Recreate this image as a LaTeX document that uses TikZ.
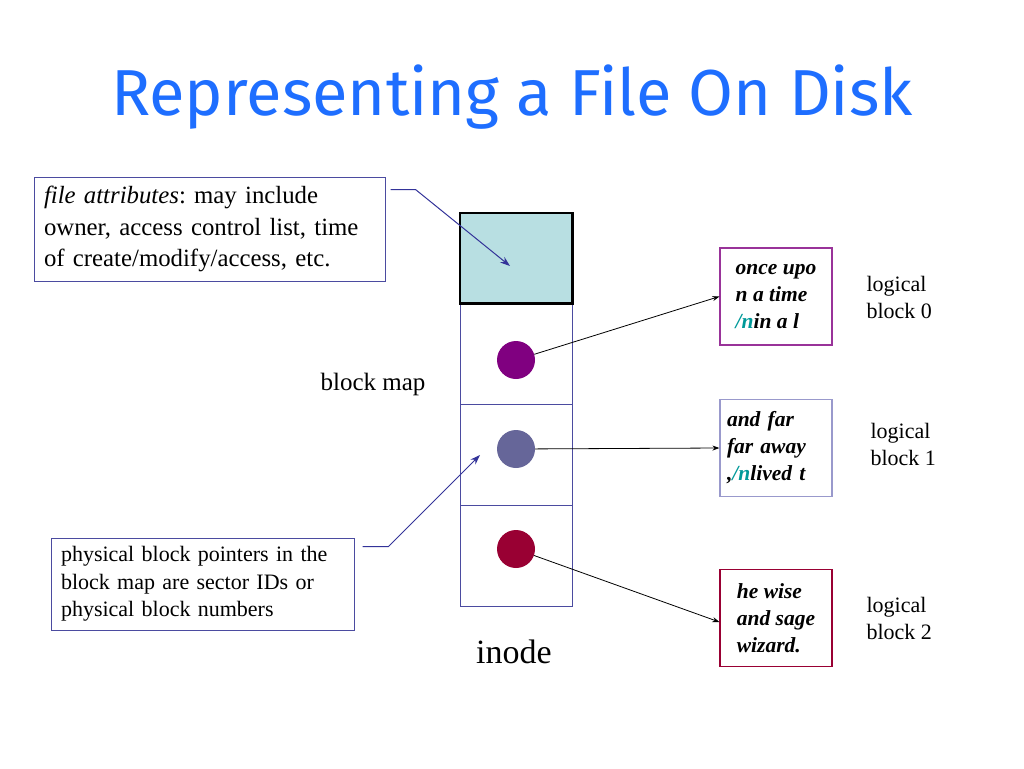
\documentclass[tikz,border=0pt]{standalone}
\usepackage{fontspec}
\setmainfont{Liberation Serif}
\newfontfamily\titlefont{Fira Sans}
\usetikzlibrary{arrows.meta,positioning}
\definecolor{titleblue}{HTML}{1E6EFF}
\definecolor{framepurple}{HTML}{4B4BA0}
\definecolor{calloutblue}{HTML}{333399}
\definecolor{attrcyan}{HTML}{B8DFE2}
\definecolor{dotpurple}{HTML}{800080}
\definecolor{dotslate}{HTML}{666699}
\definecolor{dotmaroon}{HTML}{990033}
\definecolor{boxmagenta}{HTML}{993399}
\definecolor{boxlilac}{HTML}{9999CC}
\definecolor{newlineteal}{HTML}{009999}
\newcommand{\nl}{\textcolor{newlineteal}{/n}}
\frenchspacing

\begin{document}
\begin{tikzpicture}[x=1pt, y=-1pt,
    note/.style={draw=framepurple, line width=1pt, align=left, inner sep=0pt},
    cell/.style={draw=framepurple, line width=1pt, minimum width=112pt, minimum height=101pt, inner sep=0pt},
    blockptr/.style={circle, minimum size=38pt, inner sep=0pt},
    datablock/.style={draw, line width=1.2pt, minimum width=112pt, minimum height=97pt, align=left, inner sep=0pt, font=\fontsize{21.5}{27}\selectfont\bfseries\itshape},
    label/.style={align=left, font=\fontsize{22}{27}\selectfont},
    ptr/.style={-{Stealth[length=7pt, width=5pt]}, line width=0.8pt},
    callout/.style={-{Stealth[length=10pt, width=7pt]}, draw=calloutblue, line width=1pt}
]
\useasboundingbox (0,0) rectangle (1024,768);

\node[text=titleblue, font=\titlefont\fontsize{65}{72}\selectfont] (title) at (512,97) {Representing a File On Disk};

% inode column
\node[cell, minimum height=90pt, fill=attrcyan, draw=black, line width=1.5pt] (attrcell) at (516,258) {};
\node[cell] (cell0) at (516,354) {};
\node[cell] (cell1) at (516,455) {};
\node[cell] (cell2) at (516,556) {};
\draw[black, line width=1.5pt] (attrcell.north west) rectangle (attrcell.south east);

\node[blockptr, fill=dotpurple] (dot0) at (516,360) {};
\node[blockptr, fill=dotslate] (dot1) at (516,449) {};
\node[blockptr, fill=dotmaroon] (dot2) at (516,549) {};

\node[font=\fontsize{25}{30}\selectfont] (blockmap) at (373,384) {block map};
\node[font=\fontsize{34}{40}\selectfont] (inode) at (514,652) {inode};

% data blocks
\node[datablock, draw=boxmagenta] (data0) at (776,296.5) {once upo\\n a time\\\nl in a l};
\node[datablock, draw=boxlilac, text width=98pt] (data1) at (776,448) {and far\\far away\\,\nl lived t};
\node[datablock, draw=dotmaroon] (data2) at (776,618) {he wise\\and sage\\wizard.};

\node[label, anchor=west] (lb0) at (863,297) {logical\\block 0};
\node[label, anchor=west] (lb1) at (867,444) {logical\\block 1};
\node[label, anchor=west] (lb2) at (863,618) {logical\\block 2};

\draw[ptr] (dot0) -- (data0.west);
\draw[ptr] (dot1) -- (data1.west);
\draw[ptr] (dot2) -- ([yshift=-4pt]data2.west);

% notes
\node[note, minimum width=351pt, minimum height=104pt, text width=331pt, font=\fontsize{24.8}{31.5}\selectfont] (attrnote) at (209.5,229) {\textit{file attributes}: may include\\owner, access control list, time\\of create/modify/access, etc.};
\node[note, minimum width=303pt, minimum height=92pt, text width=283pt, font=\fontsize{22}{27.5}\selectfont] (physnote) at (202.5,584) {physical block pointers in the\\block map are sector IDs or\\physical block numbers};

\coordinate (attrtip) at (510,266);
\coordinate (phystip) at (480,455);
\draw[callout] ([xshift=5pt, yshift=-13pt]attrnote.north east) -- ++(25,0) -- (attrtip);
\draw[callout] ([xshift=8pt, yshift=-9pt]physnote.north east) -- ++(26,0) -- (phystip);
\end{tikzpicture}
\end{document}
